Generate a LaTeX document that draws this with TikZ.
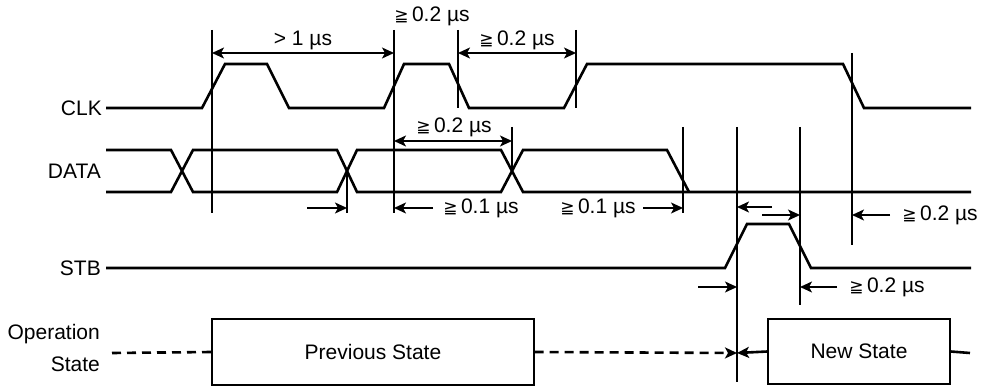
\documentclass[tikz,border=0pt]{standalone}
\usepackage{fontspec}
\setmainfont{Liberation Sans}
\newfontfamily\djvfont{DejaVu Sans}
\usetikzlibrary{arrows.meta}
\newcommand\gqsym{{\djvfont\fontsize{17}{20}\selectfont ≧}}
\tikzset{
  sig/.style={line width=2.6pt, line join=miter},
  vline/.style={line width=1.4pt},
  dim/.style={line width=1.5pt, arrows={-Stealth[length=12pt,width=11pt,inset=3pt]}},
  dimboth/.style={line width=1.5pt, arrows={Stealth[length=12pt,width=11pt,inset=3pt]-Stealth[length=12pt,width=11pt,inset=3pt]}},
  txt/.style={inner sep=0pt, font=\fontsize{21}{24}\selectfont},
  lbl/.style={inner sep=0pt, anchor=east, font=\fontsize{21}{24}\selectfont, align=right},
  statebox/.style={draw, line width=1.4pt, inner sep=0pt, font=\fontsize{21}{24}\selectfont},
  dashsig/.style={line width=2.6pt, dash pattern=on 9pt off 6pt},
}
\begin{document}
\begin{tikzpicture}[x=1pt,y=-1pt]
\useasboundingbox (0,0) rectangle (981,387);
% labels
\node[lbl] (lclk) at (102,108) {CLK};
\node[lbl] (ldata) at (101,171) {DATA};
\node[lbl] (lstb) at (101,268) {STB};
\node[lbl] (lop) at (100,334) {Operation};
\node[lbl] (lst) at (100,364) {State};
% signals
\draw[sig] (106,108)--(202,108)--(225,64)--(267,64)--(289,108)--(384,108)--(404,64)--(449,64)--(469,108)--(564,108)--(587,64)--(843,64)--(864,108)--(971,108);
\draw[sig] (106,150)--(171,150)--(193,192)--(337,192)--(357,150)--(501,150)--(523,192)--(971,192);
\draw[sig] (106,192)--(171,192)--(193,150)--(337,150)--(357,192)--(501,192)--(523,150)--(667,150)--(689,192);
\draw[sig] (106,268)--(725,268)--(747,224)--(789,224)--(811,268)--(971,268);
% vertical reference lines
\coordinate (v212t) at (212,30); \coordinate (v212b) at (212,213);
\coordinate (v394t) at (394,30); \coordinate (v394b) at (394,213);
\coordinate (v458t) at (458,30); \coordinate (v458b) at (458,108);
\coordinate (v576t) at (576,30); \coordinate (v576b) at (576,108);
\coordinate (v852t) at (852,53); \coordinate (v852b) at (852,245);
\coordinate (v512t) at (512,127); \coordinate (v512b) at (512,171);
\coordinate (v347t) at (347,171); \coordinate (v347b) at (347,213);
\coordinate (v683t) at (683,127); \coordinate (v683b) at (683,213);
\coordinate (v737t) at (737,127); \coordinate (v737b) at (737,382);
\coordinate (v800t) at (800,127); \coordinate (v800b) at (800,305);
\foreach \v in {212,394,458,576,852,512,347,683,737,800}
  \draw[vline] (v\v t)--(v\v b);
% dimension arrows
\coordinate (a1l) at (212,53); \coordinate (a1r) at (394,53);
\draw[dimboth] (a1l)--(a1r);
\node[txt] (t1) at (303,40) {> 1 µs};
\node[txt] (t0) at (432,16) {\gqsym\,0.2 µs};
\coordinate (a2l) at (458,53); \coordinate (a2r) at (576,53);
\draw[dimboth] (a2l)--(a2r);
\node[txt] (t2) at (517,40) {\gqsym\,0.2 µs};
\coordinate (a3l) at (394,141); \coordinate (a3r) at (512,141);
\draw[dimboth] (a3l)--(a3r);
\node[txt] (t3) at (454,127) {\gqsym\,0.2 µs};
\coordinate (a4s) at (307,208); \coordinate (a4e) at (347,208);
\draw[dim] (a4s)--(a4e);
\coordinate (a5s) at (433,208); \coordinate (a5e) at (394,208);
\draw[dim] (a5s)--(a5e);
\node[txt] (t5) at (481,208) {\gqsym\,0.1 µs};
\coordinate (a6s) at (643,208); \coordinate (a6e) at (683,208);
\draw[dim] (a6s)--(a6e);
\node[txt] (t6) at (598,208) {\gqsym\,0.1 µs};
\coordinate (a7s) at (772,207); \coordinate (a7e) at (737,207);
\draw[dim] (a7s)--(a7e);
\coordinate (a8s) at (762,215); \coordinate (a8e) at (800,215);
\draw[dim] (a8s)--(a8e);
\coordinate (a9s) at (890,215); \coordinate (a9e) at (852,215);
\draw[dim] (a9s)--(a9e);
\node[txt] (t9) at (940,215) {\gqsym\,0.2 µs};
\coordinate (a10s) at (698,287); \coordinate (a10e) at (737,287);
\draw[dim] (a10s)--(a10e);
\coordinate (a11s) at (837,287); \coordinate (a11e) at (800,287);
\draw[dim] (a11s)--(a11e);
\node[txt] (t11) at (887,287) {\gqsym\,0.2 µs};
% operation state
\node[statebox, minimum width=322pt, minimum height=66pt] (prev) at (373,352) {Previous State};
\node[statebox, minimum width=182pt, minimum height=65pt] (new) at (859,351.5) {New State};
\coordinate (opl) at (112,353);
\coordinate (meet) at (737,353);
\coordinate (opr) at (970,353);
\draw[dashsig] (opl)--(prev.west);
\draw[dashsig, arrows={-Stealth[length=12pt,width=11pt,inset=3pt]}] (prev.east)--(meet);
\draw[sig, arrows={-Stealth[length=12pt,width=11pt,inset=3pt]}] (new.west)--(meet);
\draw[sig] (new.east)--(opr);
\end{tikzpicture}
\end{document}
